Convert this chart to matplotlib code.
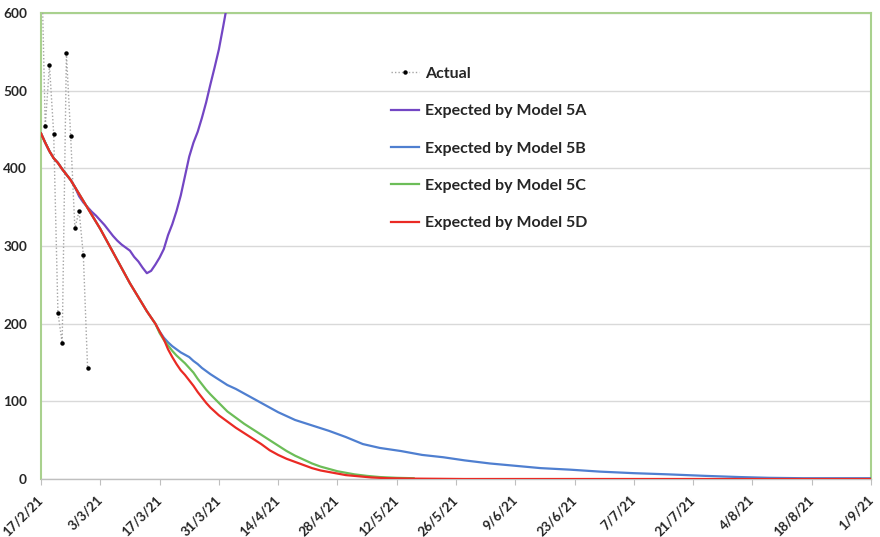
import matplotlib.pyplot as plt
import numpy as np

# Jours comptés depuis le 17/2/21
tick_days = list(range(0, 197, 14))
tick_labels = ['17/2/21', '3/3/21', '17/3/21', '31/3/21', '14/4/21', '28/4/21', '12/5/21',
               '26/5/21', '9/6/21', '23/6/21', '7/7/21', '21/7/21', '4/8/21', '18/8/21', '1/9/21']

# Observations
actual_days = [0, 1, 2, 3, 4, 5, 6, 7, 8, 9, 10, 11]
actual_vals = [700, 454, 533, 444, 214, 175, 548, 442, 323, 345, 288, 143]

# Partie commune des modèles (jours 0 à 27)
common_days = list(range(0, 28))
common_vals = [445, 433, 422, 413, 407, 399, 392, 385, 376, 367, 358, 349, 340, 331,
               322, 312, 302, 292, 282, 272, 262, 252, 243, 234, 225, 216, 208, 200]

# Modèle 5A
a_days = list(range(0, 45))
a_vals = [445, 433, 422, 413, 407, 399, 392, 385, 376, 364, 356, 350, 344, 339, 333,
          327, 320, 313, 307, 302, 298, 294, 286, 280, 272, 265, 268, 276, 285, 296,
          314, 328, 345, 365, 390, 415, 433, 447, 465, 485, 508, 530, 553, 582, 612]

# Modèle 5B
b_days = common_days + [28, 29, 30, 31, 32, 33, 34, 35, 36, 37, 38, 39, 40, 42, 44, 46, 48, 50,
                        53, 56, 60, 64, 68, 72, 76, 80, 85, 90, 95, 100, 106, 112, 118, 125,
                        132, 140, 148, 157, 165, 172, 180, 196]
b_vals = common_vals + [190, 182, 176, 171, 167, 163, 160, 157, 152, 148, 143, 139, 135, 128,
                        121, 116, 110, 104, 95, 86, 76, 69, 62, 54, 45, 40, 36, 31, 28, 24,
                        20, 17, 14, 12, 9.5, 7.5, 6, 4, 2.5, 1.5, 1, 1]

# Modèle 5C
c_days = common_days + [28, 29, 30, 31, 32, 33, 34, 35, 36, 37, 38, 39, 40, 42, 44, 46, 48, 50,
                        52, 54, 56, 58, 60, 62, 64, 66, 68, 70, 72, 74, 77, 80, 84, 88]
c_vals = common_vals + [188, 179, 172, 165, 159, 154, 149, 143, 137, 129, 122, 115, 109, 98,
                        87, 79, 71, 64, 57, 50, 43, 36, 30, 25, 20, 16, 13, 10, 8, 6, 4,
                        2.5, 1.5, 1]

# Modèle 5D
d_days = common_days + [28, 29, 30, 31, 32, 33, 34, 35, 36, 37, 38, 39, 40, 42, 44, 46, 48, 50,
                        52, 54, 56, 58, 60, 62, 64, 66, 68, 70, 72, 75, 78, 82, 88, 100, 196]
d_vals = common_vals + [190, 180, 167, 157, 148, 140, 134, 127, 120, 112, 105, 98, 92, 82,
                        74, 66, 59, 52, 45, 37, 31, 26, 22, 18, 14, 11, 9, 7, 5, 3.5, 2,
                        1, 0.5, 0, 0]

plt.rcParams['font.family'] = ['Lato', 'DejaVu Sans']
plt.rcParams['font.weight'] = 'bold'

fig = plt.figure(figsize=(8.8, 5.37), dpi=100, facecolor='white')
ax = fig.add_axes([41 / 880, 1 - 479 / 537, 830 / 880, 466 / 537])

COULEUR_CADRE = '#a9d18e'
ax.plot(actual_days, actual_vals, linestyle=(0, (1, 1.5)), color='#a5a5a5', linewidth=1,
        marker='o', markersize=2.2, markerfacecolor='black', markeredgecolor='black',
        label='Actual', zorder=3)
ax.plot(a_days, a_vals, color='#7346c4', linewidth=1.6, label='Expected by Model 5A', zorder=4)
ax.plot(b_days, b_vals, color='#4f7fd0', linewidth=1.6, label='Expected by Model 5B', zorder=4)
ax.plot(c_days, c_vals, color='#6cbd58', linewidth=1.6, label='Expected by Model 5C', zorder=5)
ax.plot(d_days, d_vals, color='#ea2a24', linewidth=1.6, label='Expected by Model 5D', zorder=6)

ax.set_xlim(0, 196)
ax.set_ylim(0, 600)
ax.set_yticks(range(0, 601, 100))
ax.set_xticks(tick_days)
ax.set_xticklabels(tick_labels, rotation=45, ha='right', va='center', rotation_mode='anchor')
ax.tick_params(axis='y', length=0, pad=10, labelsize=9.8, labelcolor='#262626')
ax.tick_params(axis='x', length=4, color='#bfbfbf', pad=9.5, labelsize=9.5, labelcolor='#262626')

ax.grid(axis='y', color='#d9d9d9', linewidth=1)
ax.set_axisbelow(True)

for cote in ['left', 'top', 'right']:
    ax.spines[cote].set_color(COULEUR_CADRE)
    ax.spines[cote].set_linewidth(1.5)
ax.spines['bottom'].set_color('#bfbfbf')
ax.spines['bottom'].set_linewidth(1)

ax.legend(loc='upper left', bbox_to_anchor=(0.412, 0.902), frameon=False, borderpad=0,
          fontsize=11.5, handlelength=1.75, handletextpad=0.4, labelspacing=1.45, numpoints=1,
          labelcolor='#262626')

plt.savefig('out.png', dpi=100)
